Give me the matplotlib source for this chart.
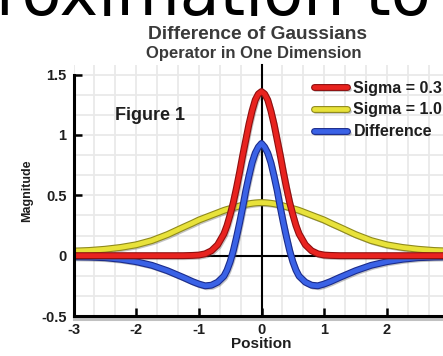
import matplotlib
matplotlib.use("Agg")
import matplotlib.pyplot as plt
import matplotlib.patheffects as pe
from matplotlib.ticker import MultipleLocator

# Sampled curves (position vs magnitude)
position = [-3.0, -2.75, -2.5, -2.25, -2.0, -1.75, -1.5, -1.25, -1.1, -1.0,
            -0.9, -0.8, -0.7, -0.6, -0.55, -0.5, -0.45, -0.4, -0.35, -0.3,
            -0.25, -0.2, -0.15, -0.1, -0.05, 0.0, 0.05, 0.1, 0.15, 0.2,
            0.25, 0.3, 0.35, 0.4, 0.45, 0.5, 0.55, 0.6, 0.7, 0.8,
            0.9, 1.0, 1.1, 1.25, 1.5, 1.75, 2.0, 2.25, 2.5, 2.75, 3.0]

sigma_03 = [0, 0, 0, 0, 0, 0, 0, 0, 0.002, 0.005,
            0.015, 0.04, 0.09, 0.18, 0.25, 0.34, 0.44, 0.56, 0.69, 0.83,
            0.96, 1.09, 1.20, 1.29, 1.34, 1.36, 1.34, 1.29, 1.20, 1.09,
            0.96, 0.83, 0.69, 0.56, 0.44, 0.34, 0.25, 0.18, 0.09, 0.04,
            0.015, 0.005, 0.002, 0, 0, 0, 0, 0, 0, 0, 0]

sigma_10 = [0.038, 0.043, 0.053, 0.068, 0.09, 0.125, 0.175, 0.235, 0.27, 0.295,
            0.315, 0.335, 0.355, 0.375, 0.383, 0.39, 0.397, 0.405, 0.412, 0.42,
            0.425, 0.43, 0.434, 0.437, 0.439, 0.44, 0.439, 0.437, 0.434, 0.43,
            0.425, 0.42, 0.412, 0.405, 0.397, 0.39, 0.383, 0.375, 0.355, 0.335,
            0.315, 0.295, 0.27, 0.235, 0.175, 0.125, 0.09, 0.068, 0.053, 0.043, 0.038]

difference = [-0.01, -0.012, -0.017, -0.03, -0.05, -0.08, -0.125, -0.18, -0.215, -0.235,
              -0.25, -0.245, -0.22, -0.17, -0.12, -0.05, 0.04, 0.15, 0.27, 0.40,
              0.54, 0.66, 0.77, 0.85, 0.90, 0.93, 0.90, 0.85, 0.77, 0.66,
              0.54, 0.40, 0.27, 0.15, 0.04, -0.05, -0.12, -0.17, -0.22, -0.245,
              -0.25, -0.235, -0.215, -0.18, -0.125, -0.08, -0.05, -0.03, -0.017, -0.012, -0.01]

series_labels = ["Sigma = 0.3", "Sigma = 1.0", "Difference"]
x_ticks = [-3, -2, -1, 0, 1, 2]
y_ticks = [-0.5, 0, 0.5, 1, 1.5]
y_tick_labels = ["-0.5", "0", "0.5", "1", "1.5"]

BOLD = dict(family=["Liberation Sans", "DejaVu Sans"], weight="bold")

fig = plt.figure(figsize=(4.43, 3.56), dpi=100)
fig.patch.set_facecolor("white")

# Axes extend slightly past the right edge of the canvas
ax = fig.add_axes([73.5 / 443, 40 / 356, (449.5 - 73.5) / 443, (316 - 65) / 356])
ax.set_xlim(-3, 3)
ax.set_ylim(-0.5, 1.58)
ax.set_facecolor("white")

# light square grid
ax.xaxis.set_minor_locator(MultipleLocator(1 / 3))
ax.yaxis.set_minor_locator(MultipleLocator(1 / 6))
ax.grid(which="minor", color="#e9e9e9", lw=1.3, zorder=0)
ax.grid(which="major", color="#e9e9e9", lw=1.3, zorder=0)
ax.tick_params(which="minor", length=0)

# axes through the origin
ax.axhline(0, color="black", lw=1.5, zorder=2)
ax.axvline(0, color="black", lw=1.5, zorder=2, clip_on=False)

shadow = pe.SimpleLineShadow(offset=(1.2, -1.5), shadow_color="#555555", alpha=0.35)

def tube(dark):
    return [shadow, pe.Stroke(linewidth=5.0, foreground=dark), pe.Normal()]

l_yel, = ax.plot(position, sigma_10, color="#e8e23a", lw=3.4, zorder=3,
                 solid_capstyle="round", path_effects=tube("#8f8a1c"), label=series_labels[1])
l_blu, = ax.plot(position, difference, color="#3a62e6", lw=3.4, zorder=4,
                 solid_capstyle="round", path_effects=tube("#1b2c8c"), label=series_labels[2])
l_red, = ax.plot(position, sigma_03, color="#e8231f", lw=3.4, zorder=5,
                 solid_capstyle="round", path_effects=tube("#8e0f0f"), label=series_labels[0])

# spines
for side in ("top", "right"):
    ax.spines[side].set_visible(False)
ax.spines["left"].set_linewidth(2.2)
ax.spines["left"].set_bounds(-0.5, 1.5)
ax.spines["bottom"].set_linewidth(2.2)
ax.spines["bottom"].set_path_effects([pe.SimpleLineShadow(offset=(0, -2), shadow_color="#666666", alpha=0.4), pe.Normal()])
ax.spines["left"].set_zorder(6)
ax.spines["bottom"].set_zorder(6)

ax.set_xticks(x_ticks)
ax.set_xticklabels([str(t) for t in x_ticks])
ax.set_yticks(y_ticks)
ax.set_yticklabels(y_tick_labels)
ax.tick_params(which="major", direction="in", length=5.5, width=1.8, color="black",
               labelsize=10.5, labelcolor="#1e1e1e")
ax.tick_params(axis="x", pad=5)
ax.tick_params(axis="y", pad=5)
for lab in ax.get_xticklabels() + ax.get_yticklabels():
    lab.set_fontfamily(BOLD["family"])
    lab.set_fontweight("bold")

ax.set_xlabel("Position", fontsize=11, color="#1e1e1e", labelpad=0, **BOLD)
ax.set_ylabel("Magnitude", fontsize=9, color="#1e1e1e", labelpad=6, **BOLD)

ax.text(-2.34, 1.127, "Figure 1", fontsize=13, color="#1e1e1e", va="baseline", **BOLD)

leg = ax.legend(handles=[l_red, l_yel, l_blu], loc="upper left",
                bbox_to_anchor=(0.83, 1.45), bbox_transform=ax.transData,
                frameon=False, borderpad=0, borderaxespad=0,
                handlelength=2.1, handletextpad=0.4, labelspacing=0.42,
                prop=dict(family=BOLD["family"], weight="bold", size=11.5))
for t in leg.get_texts():
    t.set_color("#1e1e1e")

fig.text(257 / 443, 1 - 39 / 356, "Difference of Gaussians", ha="center", va="baseline",
         fontsize=13.8, color="#3a3a3a", **BOLD)
fig.text(254 / 443, 1 - 58 / 356, "Operator in One Dimension", ha="center", va="baseline",
         fontsize=12, color="#3a3a3a", **BOLD)

fig.text(-4 / 443, 1 - 15 / 356, "roximation to", ha="left", va="baseline",
         fontsize=47, color="black", family="DejaVu Sans")

fig.savefig("out.png", dpi=100, facecolor="white")
